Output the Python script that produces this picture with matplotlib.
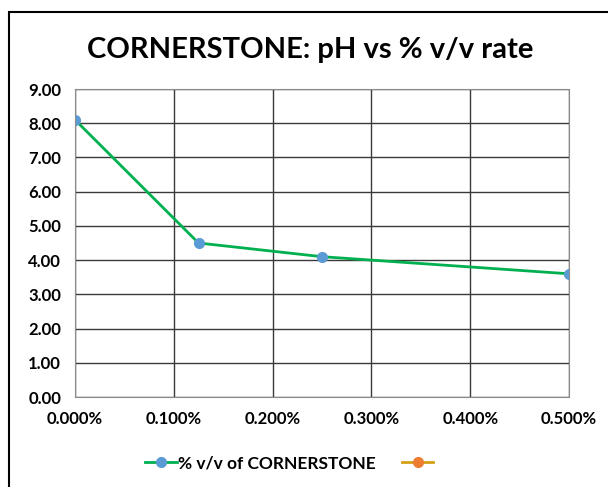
import matplotlib.pyplot as plt
from matplotlib.patches import Rectangle
from matplotlib.ticker import FuncFormatter, MultipleLocator

plt.rcParams['font.family'] = ['Lato', 'DejaVu Sans']

rate = [0.0, 0.125, 0.25, 0.5]   # % v/v
ph = [8.1, 4.5, 4.1, 3.6]
nazwa = '% v/v of CORNERSTONE'

fig = plt.figure(figsize=(6.08, 4.87), dpi=100)
ax = fig.add_axes([75 / 608, 1 - 397 / 487, 494 / 608, 308 / 487])

# ramka wykresu jak w Excelu
fig.patches.append(Rectangle((9 / 608, -0.1), 1.2, 1 - 12 / 487 + 0.1,
                             transform=fig.transFigure, fill=False,
                             edgecolor='black', lw=1.5))

ax.plot(rate, ph, color='#00B050', lw=2, marker='o', markersize=7,
        markerfacecolor='#5B9BD5', markeredgecolor='#5B9BD5', label=nazwa)
ax.plot([], [], color='#D4A017', lw=2, marker='o', markersize=7,
        markerfacecolor='#ED7D31', markeredgecolor='#ED7D31', label=' ')

ax.set_xlim(0, 0.5)
ax.set_ylim(0, 9)
ax.xaxis.set_major_locator(MultipleLocator(0.1))
ax.yaxis.set_major_locator(MultipleLocator(1))
ax.xaxis.set_major_formatter(FuncFormatter(lambda v, p: f'{v:.3f}%'))
ax.yaxis.set_major_formatter(FuncFormatter(lambda v, p: f'{v:.2f}'))
ax.grid(True, color='#3a3a3a', lw=1)
ax.set_axisbelow(True)
for s in ax.spines.values():
    s.set_color('#8c8c8c')
ax.tick_params(axis='x', length=0, labelsize=12, pad=10)
ax.tick_params(axis='y', length=0, labelsize=12, pad=10)
for t in ax.get_xticklabels() + ax.get_yticklabels():
    t.set_fontweight('bold')

fig.text(0.51, 1 - 50 / 487, 'CORNERSTONE: pH vs % v/v rate', ha='center',
         va='center', fontsize=21, fontweight='bold')

leg = ax.legend(loc='center', bbox_to_anchor=(0.44, -0.215), ncol=2,
                frameon=False, handlelength=1.8, handletextpad=0.1,
                columnspacing=1.5, prop={'weight': 'bold', 'size': 12.5})

plt.savefig('out.png', dpi=100)
